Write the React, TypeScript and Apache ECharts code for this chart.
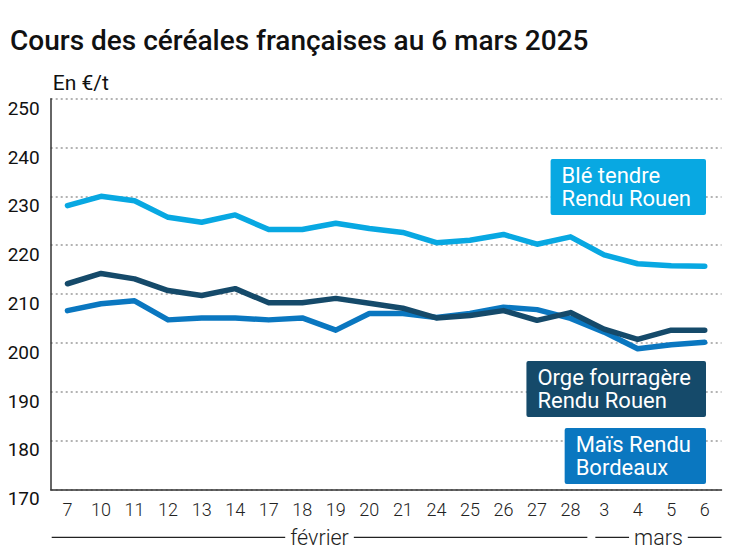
import React, { useEffect, useRef } from "react";
import * as echarts from "echarts";

const categories = ["7", "10", "11", "12", "13", "14", "17", "18", "19", "20", "21", "24", "25", "26", "27", "28", "3", "4", "5", "6"];
const bleValues = [228.1, 230, 229.1, 225.7, 224.7, 226.2, 223.2, 223.2, 224.5, 223.4, 222.6, 220.5, 221, 222.2, 220.2, 221.7, 218, 216.2, 215.8, 215.7];
const orgeValues = [212.1, 214.2, 213.1, 210.7, 209.7, 211.1, 208.2, 208.2, 209.1, 208.1, 207.1, 205.1, 205.6, 206.6, 204.6, 206.2, 202.8, 200.7, 202.6, 202.6];
const maisValues = [206.6, 208, 208.6, 204.7, 205.1, 205.1, 204.7, 205.1, 202.6, 206, 206, 205.2, 206, 207.3, 206.8, 205, 202.2, 198.8, 199.6, 200.1];
const seriesNames = ["Blé tendre\nRendu Rouen", "Orge fourragère\nRendu Rouen", "Maïs Rendu\nBordeaux"];
const monthLabels = ["février", "mars"];
const lastFebIndex = 15;

const title = "Cours des céréales françaises au 6 mars 2025";
const unit = "En €/t";

const C_BLE = "#08a8e2";
const C_ORGE = "#154a6a";
const C_MAIS = "#0a77c0";
const FONT = "Roboto, 'Noto Sans', sans-serif";

export default function App() {
  const ref = useRef<HTMLDivElement>(null);
  useEffect(() => {
    if (!ref.current) return;
    const chart = echarts.init(ref.current, undefined, { renderer: "svg" });
    const gridLeft = 50.7;
    const gridRight = 25.5;
    const gridTop = 98.7;
    const gridBottom = 68.7;
    const line = (name: string, data: number[], color: string) => ({
      name,
      type: "line",
      data,
      symbol: "none",
      lineStyle: { width: 5.5, color, join: "round", cap: "round" },
      itemStyle: { color },
      z: 3,
    });
    const labelBox = (text: string, color: string, top: number) => ({
      type: "text",
      right: 41,
      top,
      z: 10,
      style: {
        text,
        fill: "#fff",
        font: `400 22px ${FONT}`,
        lineHeight: 23.5,
        backgroundColor: color,
        padding: [4.5, 15, 4.5, 11],
        borderRadius: 2,
      },
    });
    chart.setOption({
      animation: false,
      textStyle: { fontFamily: FONT },
      title: {
        text: title,
        left: 5,
        top: 21,
        textStyle: { fontSize: 28, fontWeight: 500, color: "#111", fontFamily: FONT },
      },
      grid: { left: gridLeft, right: gridRight, top: gridTop, bottom: gridBottom },
      xAxis: {
        type: "category",
        data: categories,
        boundaryGap: true,
        axisLine: { show: true, lineStyle: { color: "#333", width: 1.5 } },
        axisTick: { show: false },
        axisLabel: { color: "#222", fontSize: 18, fontWeight: 300, margin: 11, fontFamily: FONT, interval: 0 },
      },
      yAxis: {
        type: "value",
        min: 170,
        max: 250,
        interval: 10,
        name: unit,
        nameLocation: "end",
        nameGap: 5,
        nameTextStyle: { align: "left", verticalAlign: "bottom", fontSize: 21, color: "#111", padding: [0, 0, 0, 2], fontFamily: FONT },
        axisLine: { show: true, lineStyle: { color: "#333", width: 1.5 } },
        axisTick: { show: false },
        axisLabel: { color: "#111", fontSize: 19, margin: 11, verticalAlign: "top", fontFamily: FONT },
        splitLine: { show: true, lineStyle: { color: "#9a9a9a", type: [2, 3], width: 1.5 } },
      },
      series: [
        line(seriesNames[0], bleValues, C_BLE),
        line(seriesNames[2], maisValues, C_MAIS),
        line(seriesNames[1], orgeValues, C_ORGE),
      ],
    });

    // month annotation under the axis, positioned from the category scale
    const x0 = chart.convertToPixel({ xAxisIndex: 0 }, categories[0]) as number;
    const x1 = chart.convertToPixel({ xAxisIndex: 0 }, categories[1]) as number;
    const step = x1 - x0;
    const leftEdge = x0 - step / 2;
    const boundary = (chart.convertToPixel({ xAxisIndex: 0 }, categories[lastFebIndex]) as number) + step / 2;
    const rightEdge = (chart.convertToPixel({ xAxisIndex: 0 }, categories[categories.length - 1]) as number) + step / 2;
    const yLine = 537.3;
    const spans = [
      [leftEdge + 1, boundary],
      [boundary + 8, rightEdge],
    ];
    const extra: any[] = [];
    spans.forEach(([a, b], i) => {
      extra.push({
        type: "line",
        shape: { x1: a, y1: yLine, x2: b, y2: yLine },
        style: { stroke: "#222", lineWidth: 1.2 },
        z: 5,
      });
      extra.push({
        type: "text",
        x: (a + b) / 2,
        y: yLine,
        z: 6,
        style: {
          text: monthLabels[i],
          font: `300 21.5px ${FONT}`,
          fill: "#222",
          align: "center",
          verticalAlign: "middle",
          backgroundColor: "#fff",
          padding: [0, 5],
        },
      });
    });
    chart.setOption({
      graphic: [
        labelBox(seriesNames[0], C_BLE, 159),
        labelBox(seriesNames[1], C_ORGE, 361),
        labelBox(seriesNames[2], C_MAIS, 428),
        ...extra,
      ],
    });
    return () => chart.dispose();
  }, []);
  return <div ref={ref} style={{ position: "fixed", left: 0, top: 0, width: 747, height: 558, background: "#fff" }} />;
}
